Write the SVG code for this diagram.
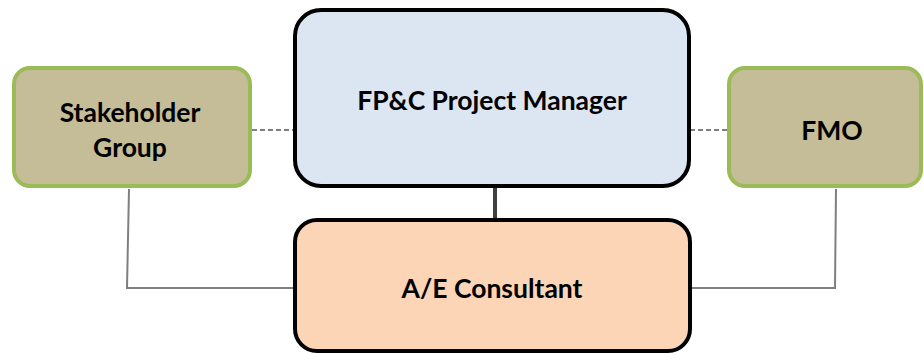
<svg xmlns="http://www.w3.org/2000/svg" width="924" height="353" viewBox="0 0 924 353">
<style>
.lbl{font-family:Lato,"Open Sans","Liberation Sans",sans-serif;font-weight:bold;font-size:26.5px;fill:#000;text-anchor:middle;dominant-baseline:central}
.side{fill:#C4BD97;stroke:#9BBB59;stroke-width:4}
.main{stroke:#000;stroke-width:4}
.conn{fill:none;stroke:#7F7F7F;stroke-width:2}
</style>
<rect width="924" height="353" fill="#fff"/>
<g id="connectors">
<line x1="252" y1="130" x2="293" y2="130" class="conn" stroke-dasharray="5,3"/>
<line x1="690" y1="130" x2="727" y2="130" class="conn" stroke-dasharray="5,3"/>
<line x1="495" y1="188" x2="495" y2="219" stroke="#404040" stroke-width="4"/>
<polyline points="129,189 127,288 294,288" class="conn"/>
<polyline points="836,189 835,288 692,288" class="conn"/>
</g>
<g id="stakeholder">
<rect x="14" y="68" width="236" height="118" rx="16" class="side"/>
<text x="130" y="112" class="lbl">Stakeholder</text>
<text x="130" y="147" class="lbl">Group</text>
</g>
<g id="fmo">
<rect x="729" y="68" width="192" height="118" rx="16" class="side"/>
<text x="832" y="130" class="lbl">FMO</text>
</g>
<g id="pm">
<rect x="295" y="10" width="394" height="176" rx="26" fill="#DCE6F2" class="main"/>
<text x="492" y="100" class="lbl">FP&amp;C Project Manager</text>
</g>
<g id="ae">
<rect x="295" y="220" width="395" height="131" rx="22" fill="#FBD5B5" class="main"/>
<text x="492" y="288" class="lbl">A/E Consultant</text>
</g>
</svg>
